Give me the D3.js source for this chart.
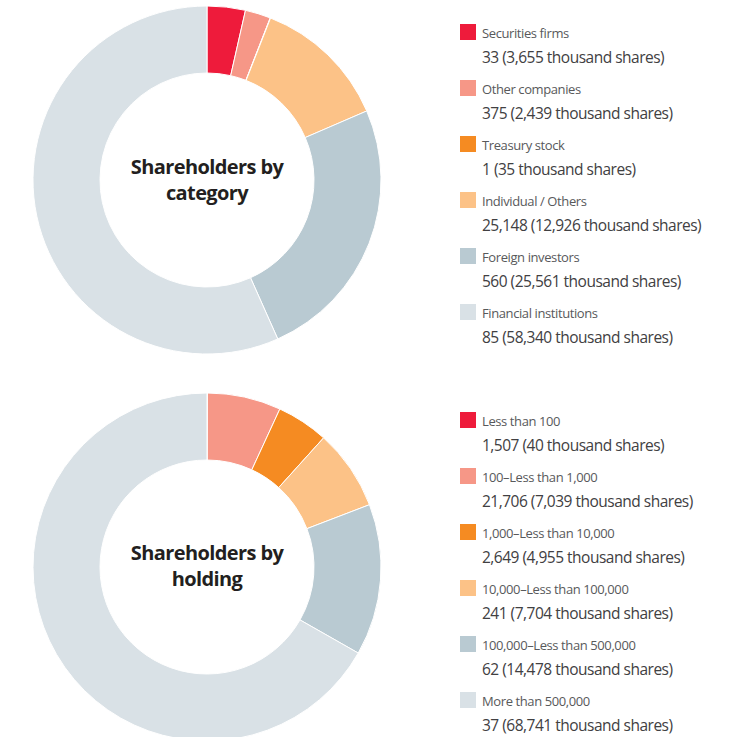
<!DOCTYPE html>
<html>
<head>
<meta charset="utf-8">
<script src="https://cdn.jsdelivr.net/npm/d3@7"></script>
<style>
  body { margin: 0; background: #fff; }
  svg { display: block; }
  .center-title { font-family: "Open Sans", sans-serif; font-weight: 700; fill: #231f20; }
  .lg-label { font-family: "Open Sans", sans-serif; fill: #58595b; }
  .lg-value { font-family: "Open Sans", sans-serif; fill: #414042; }
</style>
</head>
<body>
<div id="chart"></div>
<script>
// --- data ---
const colors = ["#ee1b3b", "#f69787", "#f58b22", "#fcc287", "#b9cad2", "#d9e1e6"];

const categoryLabels = ["Securities firms", "Other companies", "Treasury stock",
  "Individual / Others", "Foreign investors", "Financial institutions"];
const categoryHolders = ["33", "375", "1", "25,148", "560", "85"];
const categoryShares = [3655, 2439, 35, 12926, 25561, 58340];

const holdingLabels = ["Less than 100", "100\u2013Less than 1,000", "1,000\u2013Less than 10,000",
  "10,000\u2013Less than 100,000", "100,000\u2013Less than 500,000", "More than 500,000"];
const holdingHolders = ["1,507", "21,706", "2,649", "241", "62", "37"];
const holdingShares = [40, 7039, 4955, 7704, 14478, 68741];

const W = 733, H = 737;
const svg = d3.select("#chart").append("svg").attr("width", W).attr("height", H);

const fmt = d3.format(",");

function drawPanel(opts) {
    const g = svg.append("g");

    // donut
    const pie = d3.pie().sort(null).value(d => d)(opts.shares);
    const arc = d3.arc().innerRadius(107).outerRadius(174);
    const donut = g.append("g").attr("transform", `translate(${opts.cx},${opts.cy})`);
    donut.selectAll("path").data(pie).enter().append("path")
        .attr("d", arc)
        .attr("fill", (d, i) => colors[i])
        .attr("stroke", "#fff")
        .attr("stroke-width", 1);

    // title in the hole
    const t = donut.append("text").attr("class", "center-title")
        .attr("text-anchor", "middle").attr("font-size", 20).attr("letter-spacing", -0.6);
    opts.title.forEach((line, i) => {
        t.append("tspan").attr("x", 0).attr("y", opts.titleY + i * 26).text(line);
    });

    // legend
    const rows = g.append("g").selectAll("g").data(opts.labels).enter().append("g")
        .attr("transform", (d, i) => `translate(460,${opts.legendTop + i * 56})`);
    rows.append("rect").attr("width", 16).attr("height", 16)
        .attr("fill", (d, i) => colors[i]);
    rows.append("text").attr("class", "lg-label")
        .attr("x", 22).attr("y", 14).attr("font-size", 13).attr("letter-spacing", -0.4)
        .text(d => d);
    rows.append("text").attr("class", "lg-value")
        .attr("x", 22).attr("y", 39).attr("font-size", 15.5).attr("letter-spacing", -0.5)
        .text((d, i) => `${opts.holders[i]} (${fmt(opts.shares[i])} thousand shares)`);
}

drawPanel({
    cx: 207, cy: 180, titleY: -6,
    shares: categoryShares, labels: categoryLabels, holders: categoryHolders,
    title: ["Shareholders by", "category"], legendTop: 24
});

drawPanel({
    cx: 207, cy: 567, titleY: -7,
    shares: holdingShares, labels: holdingLabels, holders: holdingHolders,
    title: ["Shareholders by", "holding"], legendTop: 412
});
</script>
</body>
</html>
